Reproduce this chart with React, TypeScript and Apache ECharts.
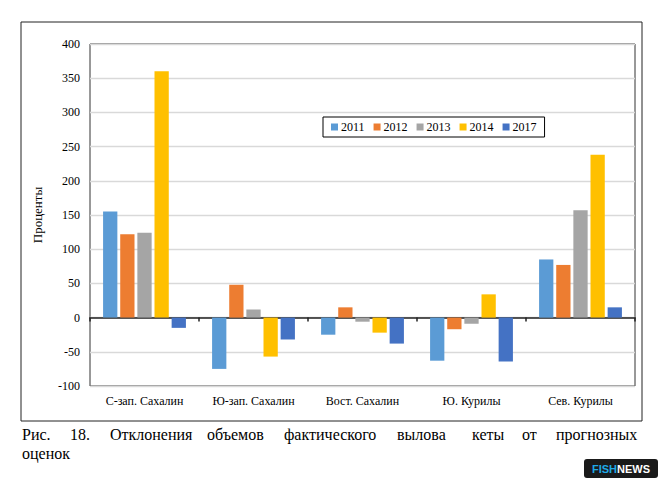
import { useEffect, useRef } from 'react';
import * as echarts from 'echarts';

const regions = ['С-зап. Сахалин', 'Ю-зап. Сахалин', 'Вост. Сахалин', 'Ю. Курилы', 'Сев. Курилы'];
const years = ['2011', '2012', '2013', '2014', '2017'];
const v2011 = [155, -75, -25, -63, 85];
const v2012 = [122, 48, 15, -17, 77];
const v2013 = [124, 12, -6, -9, 157];
const v2014 = [360, -57, -22, 34, 238];
const v2017 = [-15, -32, -38, -64, 15];
const colors = ['#5b9bd5', '#ed7d31', '#a5a5a5', '#ffc000', '#4472c4'];
const captionWords = ['Рис.', '18.', 'Отклонения', 'объемов', 'фактического', 'вылова', 'кеты', 'от', 'прогнозных'];
const captionX = [22, 70, 110, 207, 284, 397, 472, 522, 556];

const font = 'Liberation Serif, Times New Roman, serif';

const App = () => {
  const chartRef = useRef<HTMLDivElement>(null);

  useEffect(() => {
    if (!chartRef.current) return;
    const myChart = echarts.init(chartRef.current, null, { renderer: 'svg' });
    const all = [v2011, v2012, v2013, v2014, v2017];

    const option = {
      animation: false,
      backgroundColor: '#fff',
      textStyle: { fontFamily: font },
      grid: { left: 90, right: 33, top: 44, bottom: 102, show: true, borderColor: '#333', borderWidth: 1 },
      legend: {
        data: years,
        left: 323,
        top: 117,
        itemWidth: 7,
        itemHeight: 7,
        itemGap: 9,
        padding: [4, 8],
        borderColor: '#000',
        borderWidth: 1,
        textStyle: { fontFamily: font, fontSize: 12, color: '#000', padding: [0, 0, 0, -2] },
        icon: 'rect'
      },
      xAxis: {
        type: 'category',
        data: regions,
        axisLine: { onZero: true, lineStyle: { color: '#222', width: 1.5 } },
        axisTick: { show: true, length: 4, lineStyle: { color: '#222', width: 1.5 } },
        axisLabel: { show: false }
      },
      yAxis: {
        type: 'value',
        min: -100,
        max: 400,
        interval: 50,
        name: 'Проценты',
        nameLocation: 'middle',
        nameGap: 46,
        nameTextStyle: { fontFamily: font, fontSize: 13, color: '#000' },
        axisLabel: { fontFamily: font, fontSize: 12, color: '#000', margin: 10 },
        splitLine: { lineStyle: { color: '#d9d9d9', width: 1.3 } }
      },
      series: years.map((y, i) => ({
        name: y,
        type: 'bar',
        data: all[i],
        barGap: '20%',
        barCategoryGap: '24%',
        itemStyle: { color: colors[i] }
      })),
      graphic: [
        { type: 'rect', shape: { x: 21, y: 22, width: 621, height: 399 }, style: { fill: 'none', stroke: '#222', lineWidth: 1 }, silent: true },
        // category labels sit at the plot bottom, not at the zero line
        ...regions.map((r, i) => ({
          type: 'text',
          x: 90 + 109 * i + 54.5,
          y: 395,
          style: { text: r, fontFamily: font, fontSize: 12, fill: '#000', textAlign: 'center' }
        })),
        ...captionWords.map((w, i) => ({
          type: 'text',
          x: captionX[i],
          y: 426,
          style: { text: w, fontFamily: font, fontSize: 16, fill: '#000' }
        })),
        { type: 'text', x: 22, y: 445, style: { text: 'оценок', fontFamily: font, fontSize: 16, fill: '#000' } },
        { type: 'rect', shape: { x: 584, y: 459, width: 74, height: 19, r: 3 }, style: { fill: '#1a1a1a' } },
        {
          type: 'text',
          x: 621,
          y: 463,
          style: {
            rich: {
              a: { fill: '#1fa9e6', fontFamily: 'Liberation Sans, Arial', fontWeight: 'bold', fontSize: 11 },
              b: { fill: '#fff', fontFamily: 'Liberation Sans, Arial', fontWeight: 'bold', fontSize: 11 }
            },
            text: '{a|FISH}{b|NEWS}',
            textAlign: 'center'
          }
        }
      ]
    };

    myChart.setOption(option);
    return () => myChart.dispose();
  }, []);

  return <div ref={chartRef} style={{ position: 'absolute', left: 0, top: 0, width: 668, height: 488 }} />;
};

export default App;
